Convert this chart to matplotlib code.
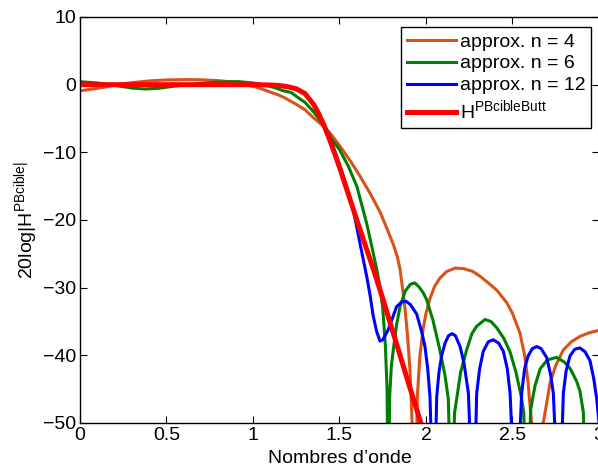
import matplotlib
matplotlib.use("Agg")
import matplotlib.pyplot as plt
from matplotlib.ticker import FuncFormatter

plt.rcParams['font.family'] = ['Liberation Sans', 'DejaVu Sans']
plt.rcParams['mathtext.fontset'] = 'custom'
plt.rcParams['mathtext.rm'] = 'Liberation Sans'
plt.rcParams['mathtext.it'] = 'Liberation Sans:italic'

# approx. n = 4 (orange)
x_n4 = [0, 0.1, 0.22, 0.3, 0.4, 0.5, 0.624, 0.7, 0.8, 0.913, 0.983, 1.03, 1.1,
        1.145, 1.18, 1.25, 1.3, 1.35, 1.415, 1.45, 1.503, 1.561, 1.618, 1.68,
        1.734, 1.77, 1.811, 1.835, 1.85, 1.869, 1.879, 1.893, 1.907, 1.92, 1.935,
        1.95, 1.965, 1.984, 2.0, 2.023, 2.05, 2.08, 2.12, 2.17, 2.22, 2.27, 2.312,
        2.36, 2.41, 2.466, 2.5, 2.543, 2.57, 2.59, 2.61, 2.64, 2.665, 2.678,
        2.717, 2.75, 2.794, 2.84, 2.89, 2.94, 3.0]
y_n4 = [-0.9, -0.55, 0.0, 0.3, 0.55, 0.7, 0.75, 0.72, 0.6, 0.3, -0.15, -0.45, -1.1,
        -1.5, -1.9, -2.9, -3.7, -4.9, -6.3, -7.3, -9.1, -11.2, -13.5, -16.2,
        -18.8, -21.0, -23.6, -25.5, -27.3, -31.0, -33.2, -37.0, -42.0, -50.0, -65.0,
        -46.0, -40.0, -36.0, -33.8, -31.6, -29.8, -28.6, -27.6, -27.1, -27.2, -27.6,
        -28.3, -29.3, -30.4, -32.2, -33.8, -36.7, -40.0, -44.0, -50.0, -65.0, -53.0,
        -50.0, -44.1, -41.5, -39.2, -38.0, -37.2, -36.7, -36.3]

# approx. n = 6 (green)
x_n6 = [0, 0.1, 0.2, 0.3, 0.374, 0.45, 0.55, 0.62, 0.7, 0.8, 0.913, 1.0, 1.067,
        1.12, 1.175, 1.22, 1.26, 1.3, 1.35, 1.38, 1.415, 1.45, 1.5, 1.55, 1.6,
        1.657, 1.69, 1.715, 1.734, 1.75, 1.765, 1.775, 1.782, 1.79, 1.8, 1.811,
        1.83, 1.85, 1.88, 1.91, 1.935, 1.96, 1.985, 2.004, 2.04, 2.08, 2.11,
        2.129, 2.148, 2.165, 2.177, 2.2, 2.235, 2.265, 2.293, 2.341, 2.375, 2.408,
        2.45, 2.486, 2.52, 2.55, 2.565, 2.585, 2.605, 2.63, 2.66, 2.7, 2.755,
        2.8, 2.832, 2.87, 2.89, 2.91, 2.925, 2.96, 3.0]
y_n6 = [0.44, 0.25, -0.1, -0.5, -0.64, -0.55, -0.2, 0.0, 0.2, 0.4, 0.45, 0.25, -0.05,
        -0.4, -0.9, -1.15, -1.9, -2.6, -4.0, -5.0, -6.3, -7.9, -9.6, -12.0, -15.0,
        -20.5, -24.3, -27.3, -29.8, -33.0, -38.5, -45.0, -65.0, -46.0, -41.5, -39.2,
        -35.5, -32.8, -30.5, -29.5, -29.3, -29.9, -30.8, -31.8, -34.8, -39.2, -43.0,
        -46.5, -65.0, -48.5, -46.5, -42.5, -39.2, -36.8, -35.7, -34.7, -35.0, -35.9,
        -37.5, -39.5, -42.5, -46.0, -48.5, -65.0, -48.0, -44.5, -42.0, -40.7, -40.3,
        -41.0, -41.9, -43.8, -45.3, -48.5, -65.0, -56.0, -53.0]

# approx. n = 12 (blue)
x_n12 = [0, 0.5, 1.0, 1.1, 1.2, 1.25, 1.3, 1.35, 1.4, 1.45, 1.5, 1.55, 1.58,
         1.618, 1.657, 1.676, 1.695, 1.715, 1.734, 1.75, 1.782, 1.83, 1.86,
         1.884, 1.91, 1.946, 1.975, 1.994, 2.01, 2.023, 2.045, 2.062, 2.075,
         2.09, 2.11, 2.13, 2.15, 2.17, 2.197, 2.22, 2.245, 2.275, 2.293, 2.31,
         2.331, 2.36, 2.389, 2.42, 2.447, 2.47, 2.486, 2.52, 2.553, 2.57, 2.59,
         2.615, 2.64, 2.665, 2.697, 2.72, 2.736, 2.77, 2.794, 2.81, 2.832, 2.86,
         2.89, 2.92, 2.948, 2.97, 2.987, 3.0]
y_n12 = [0.05, 0.0, 0.0, -0.05, -0.35, -0.7, -1.4, -2.8, -5.2, -8.2, -11.8, -15.8, -18.5,
         -23.4, -28.3, -31.0, -34.2, -36.5, -37.9, -37.7, -36.2, -32.8, -32.1,
         -32.0, -32.5, -33.9, -36.5, -38.7, -42.0, -46.1, -65.0, -46.1, -42.5,
         -40.1, -38.2, -37.1, -36.8, -37.1, -38.7, -41.2, -45.6, -65.0, -45.6, -42.0,
         -39.4, -38.0, -37.7, -38.2, -39.4, -42.0, -45.6, -65.0, -45.6, -42.0, -40.1,
         -39.0, -38.7, -39.0, -40.3, -42.8, -45.6, -65.0, -45.6, -42.3, -40.1, -39.1,
         -38.9, -39.5, -40.8, -43.5, -46.5, -50.0]

# gabarit H^PBcibleButt (red)
x_butt = [0, 0.5, 1.0, 1.1, 1.15, 1.2, 1.25, 1.3, 1.35, 1.38, 1.415, 1.45, 1.5,
          1.55, 1.6, 1.65, 1.7, 1.75, 1.8, 1.85, 1.9, 1.95, 2.0]
y_butt = [0, 0, 0, -0.05, -0.12, -0.3, -0.6, -1.3, -2.9, -4.3, -6.3, -8.6, -12.2,
          -16.1, -20.0, -23.8, -27.6, -31.6, -35.8, -40.0, -44.2, -48.3, -52.5]

labels = ['approx. n = 4', 'approx. n = 6', 'approx. n = 12',
          r'H$^{\mathrm{PBcibleButt}}$']

fig = plt.figure(figsize=(5.98, 4.70), dpi=100)
ax = fig.add_axes([80 / 598, 47 / 470, 519 / 598, 406 / 470])

ax.plot(x_n4, y_n4, color='#D95319', lw=2.2, label=labels[0])
ax.plot(x_n6, y_n6, color='#008000', lw=2.2, label=labels[1])
ax.plot(x_n12, y_n12, color='#0000FF', lw=2.2, label=labels[2])
ax.plot(x_butt, y_butt, color='#FF0000', lw=3.6, label=labels[3])

ax.set_xlim(0, 3)
ax.set_ylim(-50, 10)
ax.set_xticks([0, 0.5, 1, 1.5, 2, 2.5, 3])
ax.set_yticks([-50, -40, -30, -20, -10, 0, 10])
ax.xaxis.set_major_formatter(FuncFormatter(lambda v, p: '%g' % v))
ax.tick_params(direction='in', length=5, width=0.8, top=True, right=True,
               labelsize=14, pad=3)
for s in ax.spines.values():
    s.set_linewidth(1.0)

ax.set_xlabel('Nombres d’onde', fontsize=14, labelpad=4)
ax.set_ylabel(r'20log|H$^{\mathrm{PBcible|}}$', fontsize=14, labelpad=2)

leg = ax.legend(loc='upper right', bbox_to_anchor=(0.985, 0.975), borderaxespad=0,
                fontsize=14, fancybox=False, framealpha=1, edgecolor='black',
                handlelength=2.5, handletextpad=0.2, labelspacing=0.22,
                borderpad=0.3)
leg.get_frame().set_linewidth(1.0)

fig.savefig('out.png', dpi=100)
